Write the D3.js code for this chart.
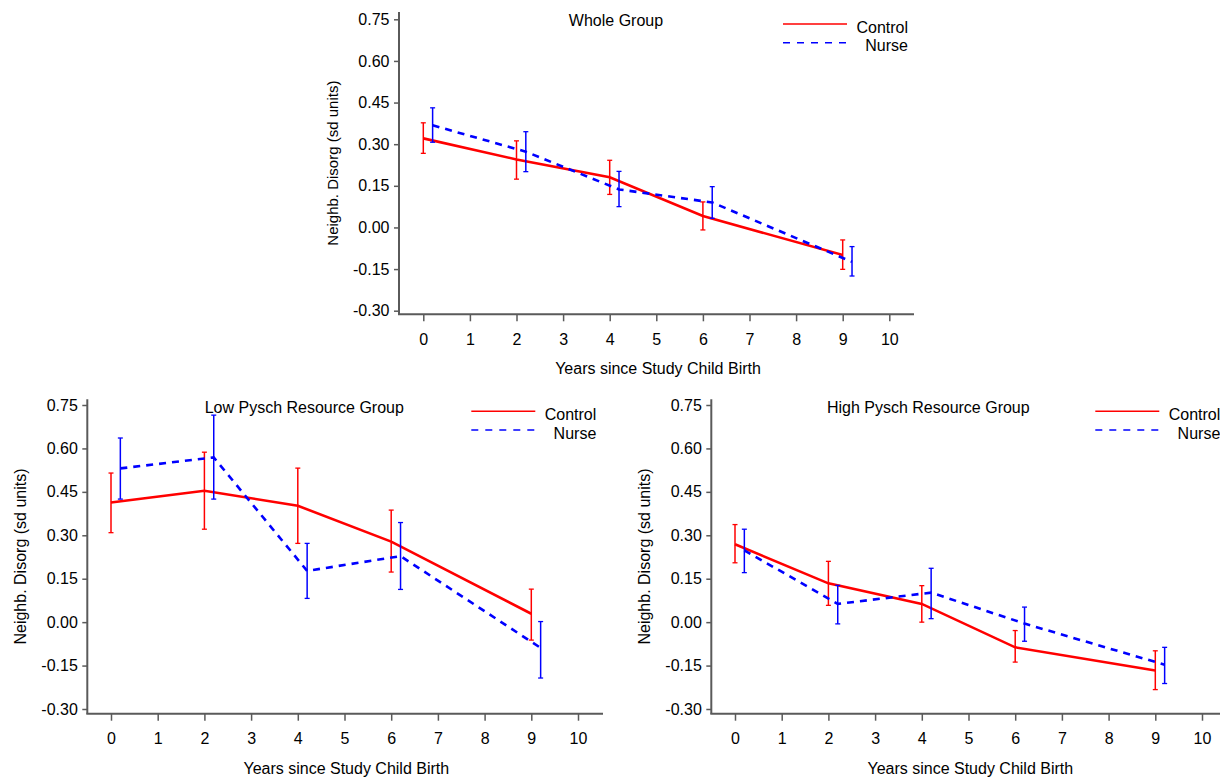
<!DOCTYPE html>
<html>
<head>
<meta charset="UTF-8">
<title>Neighb. Disorg by group</title>
<script src="https://cdn.jsdelivr.net/npm/d3@7"></script>
<style>
  body { margin: 0; background: #fff; }
  svg text { font-family: "Liberation Sans", Arial, sans-serif; fill: #000; }
</style>
</head>
<body>
<div id="chart"></div>
<script>
// ---- data ----
var years = [0, 2, 4, 6, 9];
var xTicks = [0, 1, 2, 3, 4, 5, 6, 7, 8, 9, 10];
var yTicks = [-0.30, -0.15, 0.00, 0.15, 0.30, 0.45, 0.60, 0.75];
var seriesNames = ["Control", "Nurse"];
var panelTitles = ["Whole Group", "Low Pysch Resource Group", "High Pysch Resource Group"];
var xTitle = "Years since Study Child Birth";
var yTitle = "Neighb. Disorg (sd units)";

// whole group
var wholeControl   = [0.321, 0.245, 0.181, 0.041, -0.099];
var wholeControlLo = [0.267, 0.174, 0.119, -0.009, -0.151];
var wholeControlHi = [0.377, 0.312, 0.242, 0.092, -0.045];
var wholeNurse     = [0.368, 0.273, 0.137, 0.090, -0.124];
var wholeNurseLo   = [0.307, 0.201, 0.075, 0.033, -0.175];
var wholeNurseHi   = [0.431, 0.345, 0.202, 0.147, -0.069];

// low psych resource group
var lowControl   = [0.413, 0.454, 0.402, 0.278, 0.029];
var lowControlLo = [0.309, 0.321, 0.272, 0.173, -0.062];
var lowControlHi = [0.515, 0.587, 0.532, 0.387, 0.114];
var lowNurse     = [0.531, 0.569, 0.177, 0.228, -0.089];
var lowNurseLo   = [0.425, 0.425, 0.082, 0.113, -0.193];
var lowNurseHi   = [0.636, 0.715, 0.272, 0.344, 0.002];

// high psych resource group
var highControl   = [0.269, 0.134, 0.063, -0.087, -0.167];
var highControlLo = [0.205, 0.058, 0.000, -0.138, -0.233];
var highControlHi = [0.337, 0.210, 0.126, -0.029, -0.099];
var highNurse     = [0.248, 0.063, 0.102, -0.005, -0.147];
var highNurseLo   = [0.171, -0.006, 0.012, -0.066, -0.212];
var highNurseHi   = [0.321, 0.127, 0.186, 0.052, -0.087];

var nurseShift = 0.2;   // nurse points drawn slightly right of control

var W = 1220, H = 777;
var svg = d3.select("#chart").append("svg")
    .attr("width", W)
    .attr("height", H);

function rows(mean, lo, hi, shift) {
    return years.map(function (yr, i) {
        return {x: yr + shift, v: mean[i], lo: lo[i], hi: hi[i]};
    });
}

// layout of the three panels (pixel frame of each plot)
var panels = [
    {title: panelTitles[0], left: 399, top: 12, base: 314.3, right: 914,
        x0: 423.3, x10: 889.3, y75: 19.3, y30: 310.7, yTitleSize: 15,
        control: rows(wholeControl, wholeControlLo, wholeControlHi, 0),
        nurse: rows(wholeNurse, wholeNurseLo, wholeNurseHi, nurseShift)},
    {title: panelTitles[1], left: 87.3, top: 399.3, base: 713.7, right: 603,
        x0: 111, x10: 578, y75: 405, y30: 709, yTitleSize: 16,
        control: rows(lowControl, lowControlLo, lowControlHi, 0),
        nurse: rows(lowNurse, lowNurseLo, lowNurseHi, nurseShift)},
    {title: panelTitles[2], left: 711.3, top: 399.3, base: 713.7, right: 1227,
        x0: 735, x10: 1202, y75: 405, y30: 709, yTitleSize: 16,
        control: rows(highControl, highControlLo, highControlHi, 0),
        nurse: rows(highNurse, highNurseLo, highNurseHi, nurseShift)}
];

var axisColor = "#5a5a5a";
var colors = {control: "#ff0000", nurse: "#0000ff"};

panels.forEach(drawPanel);

function drawPanel(p) {
    var x = d3.scaleLinear().domain([0, 10]).range([p.x0, p.x10]);
    var y = d3.scaleLinear().domain([-0.30, 0.75]).range([p.y30, p.y75]);
    var g = svg.append("g");

    // axes
    var yAxis = d3.axisLeft(y)
        .tickValues(yTicks)
        .tickFormat(function (d) { return d.toFixed(2); })
        .tickSize(5).tickPadding(4.5).tickSizeOuter(0);
    var ga = g.append("g").attr("transform", "translate(" + p.left + ",0)").call(yAxis);
    ga.select(".domain").remove();

    var xAxis = d3.axisBottom(x)
        .tickValues(xTicks)
        .tickFormat(d3.format("d"))
        .tickSize(7).tickPadding(12).tickSizeOuter(0);
    var gb = g.append("g").attr("transform", "translate(0," + p.base + ")").call(xAxis);
    gb.select(".domain").remove();

    g.selectAll(".tick line").attr("stroke", axisColor).attr("stroke-width", 1.5);
    g.selectAll(".tick text").attr("font-size", 16).attr("fill", "#000")
        .attr("font-family", "Liberation Sans, Arial, sans-serif");

    g.append("line")
        .attr("x1", p.left).attr("x2", p.left)
        .attr("y1", p.top).attr("y2", p.base)
        .attr("stroke", axisColor).attr("stroke-width", 2);
    g.append("line")
        .attr("x1", p.left - 1).attr("x2", p.right)
        .attr("y1", p.base).attr("y2", p.base)
        .attr("stroke", axisColor).attr("stroke-width", 2);

    // titles
    g.append("text")
        .attr("x", p.left + 217).attr("y", p.top + 13.5)
        .attr("text-anchor", "middle").attr("font-size", 16)
        .text(p.title);
    g.append("text")
        .attr("x", p.left + 259).attr("y", p.base + 60)
        .attr("text-anchor", "middle").attr("font-size", 16)
        .text(xTitle);
    g.append("text")
        .attr("transform", "translate(" + (p.left - 61) + "," + ((p.top + p.base) / 2) + ") rotate(-90)")
        .attr("text-anchor", "middle").attr("font-size", p.yTitleSize)
        .text(yTitle);

    // series
    var line = d3.line()
        .x(function (d) { return x(d.x); })
        .y(function (d) { return y(d.v); });

    [["control", null], ["nurse", "7,6"]].forEach(function (s) {
        var key = s[0];
        var data = p[key];
        var c = colors[key];
        var eb = g.append("g").selectAll("g").data(data).enter().append("g");
        eb.append("line")
            .attr("x1", function (d) { return x(d.x); })
            .attr("x2", function (d) { return x(d.x); })
            .attr("y1", function (d) { return y(d.lo); })
            .attr("y2", function (d) { return y(d.hi); })
            .attr("stroke", c).attr("stroke-width", 1.5);
        ["lo", "hi"].forEach(function (k) {
            eb.append("line")
                .attr("x1", function (d) { return x(d.x) - 2.5; })
                .attr("x2", function (d) { return x(d.x) + 2.5; })
                .attr("y1", function (d) { return y(d[k]); })
                .attr("y2", function (d) { return y(d[k]); })
                .attr("stroke", c).attr("stroke-width", 1.3);
        });
        g.append("path")
            .datum(data)
            .attr("d", line)
            .attr("fill", "none")
            .attr("stroke", c)
            .attr("stroke-width", 2.6)
            .attr("stroke-dasharray", s[1]);
    });

    // legend
    var lx1 = p.left + 384, lx2 = p.left + 448, tx = p.left + 509;
    var rowsY = [p.top + 12, p.top + 30.7];
    seriesNames.forEach(function (name, i) {
        g.append("line")
            .attr("x1", lx1).attr("x2", lx2)
            .attr("y1", rowsY[i]).attr("y2", rowsY[i])
            .attr("stroke", i === 0 ? colors.control : colors.nurse)
            .attr("stroke-width", 1.5)
            .attr("stroke-dasharray", i === 0 ? null : "7,7");
        g.append("text")
            .attr("x", tx).attr("y", rowsY[i] + 8.7)
            .attr("text-anchor", "end").attr("font-size", 16)
            .text(name);
    });
}
</script>
</body>
</html>
